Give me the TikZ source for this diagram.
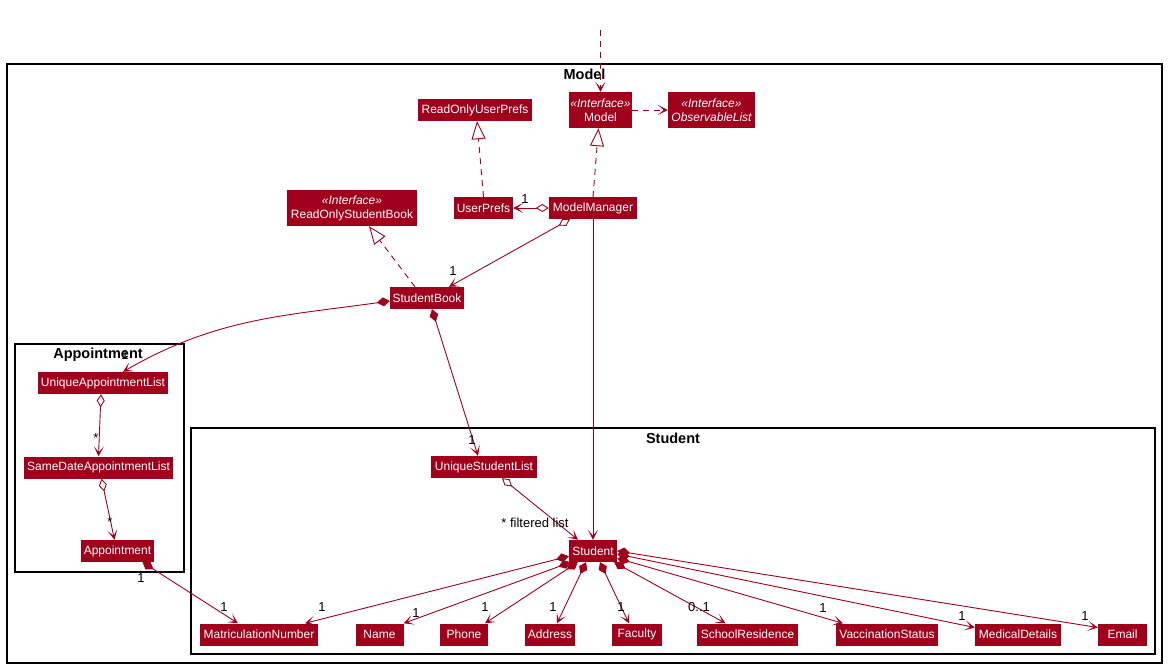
\documentclass[tikz,border=0pt]{standalone}
\usepackage{fontspec}
\setmainfont{Liberation Sans}
\usetikzlibrary{arrows.meta,calc}
\definecolor{umlred}{RGB}{160,0,28}
\tikzset{
  cls/.style={fill=umlred, text=white, inner sep=0pt, font=\fontsize{12}{14}\selectfont, align=center, minimum height=22pt},
  lbl/.style={text=black, inner sep=0pt, font=\fontsize{13}{15}\selectfont},
  pkgtitle/.style={font=\bfseries\fontsize{14.5}{16}\selectfont, inner sep=0pt},
  pkg/.style={draw=black, line width=1.2pt, inner sep=0pt},
  edge/.style={draw=umlred, line width=0.9pt},
  opentip/.style={-{Stealth[length=10pt,width=10pt,inset=6pt]}},
  dep/.style={edge, dash pattern=on 6pt off 5pt, opentip},
  real/.style={edge, dash pattern=on 6pt off 5pt, -{Triangle[open, length=18pt, width=14pt, fill=white]}},
  assoc/.style={edge, opentip},
  aggr/.style={edge, {Diamond[open, length=13pt, width=8pt, fill=white]}-{Stealth[length=10pt,width=10pt,inset=6pt]}},
  comp/.style={edge, {Diamond[length=13pt, width=9pt]}-{Stealth[length=10pt,width=10pt,inset=6pt]}}
}
\begin{document}
\begin{tikzpicture}[x=1pt,y=1pt]
\useasboundingbox[fill=white] (0,0) rectangle (1168,-668);

% packages
\node[pkg, minimum width=1155pt, minimum height=599pt] (pModel) at (584.5,-363.5) {};
\node[pkgtitle] (tModel) at (584.5,-74) {Model};
\node[pkg, minimum width=169pt, minimum height=228pt] (pAppt) at (99.5,-458) {};
\node[pkgtitle] (tAppt) at (98,-355) {Appointment};
\node[pkg, minimum width=964pt, minimum height=226pt] (pStudent) at (673,-541) {};
\node[pkgtitle] (tStudent) at (673,-438) {Student};

% classes
\node[cls, minimum width=114pt] (roup) at (475,-110) {ReadOnlyUserPrefs};
\node[cls, minimum width=63pt, minimum height=36pt] (model) at (600.5,-110) {{\itshape «Interface»}\\Model};
\node[cls, minimum width=87pt, minimum height=36pt] (obs) at (711.5,-110) {{\itshape «Interface»}\\{\itshape ObservableList}};
\node[cls, minimum width=59pt] (userprefs) at (483.5,-208) {UserPrefs};
\node[cls, minimum width=88pt] (mm) at (593,-208) {ModelManager};
\node[cls, minimum width=130pt, minimum height=36pt] (rosb) at (352,-208) {{\itshape «Interface»}\\ReadOnlyStudentBook};
\node[cls, minimum width=74pt] (sb) at (427,-298) {StudentBook};
\node[cls, minimum width=130pt] (ual) at (103,-383) {UniqueAppointmentList};
\node[cls, minimum width=149pt] (sdal) at (98.5,-467.5) {SameDateAppointmentList};
\node[cls, minimum width=73pt] (appt) at (117.5,-551) {Appointment};
\node[cls, minimum width=106pt] (usl) at (484,-467) {UniqueStudentList};
\node[cls, minimum width=48pt] (student) at (593,-551) {Student};
\node[cls, minimum width=118pt] (matr) at (259,-634.5) {MatriculationNumber};
\node[cls, minimum width=48pt] (name) at (379.5,-634.5) {Name};
\node[cls, minimum width=48pt] (phone) at (464,-634.5) {Phone};
\node[cls, minimum width=50pt] (address) at (550,-634.5) {Address};
\node[cls, minimum width=50pt] (faculty) at (637,-634.5) {Faculty};
\node[cls, minimum width=101pt] (schoolres) at (747.5,-634.5) {SchoolResidence};
\node[cls, minimum width=102pt] (vacc) at (887,-634.5) {VaccinationStatus};
\node[cls, minimum width=86pt] (medical) at (1018,-634.5) {MedicalDetails};
\node[cls, minimum width=49pt] (email) at (1122.5,-634.5) {Email};

% connectors
\coordinate (top) at (600.5,-30);
\draw[dep] (top) -- (model.north);
\draw[dep] (model.east) -- (obs.west);
\draw[real] (userprefs.north) -- ([xshift=2pt]roup.south);
\draw[real] (mm.north) -- ([xshift=-2pt]model.south);
\draw[aggr] (mm.west) -- (userprefs.east);
\draw[aggr] ([xshift=-23pt]mm.south) -- ([xshift=22pt]sb.north);
\draw[real] ([xshift=-12pt]sb.north) -- ([xshift=17pt]rosb.south);
\draw[comp] ([yshift=-3pt]sb.west) to[out=188, in=30] ([xshift=20pt]ual.north);
\draw[comp] ([xshift=5pt]sb.south) -- ([xshift=-6pt]usl.north);
\draw[assoc] (mm.south) -- (student.north);
\draw[aggr] ([xshift=-2pt]ual.south) -- (sdal.north);
\draw[aggr] ([xshift=3pt]sdal.south) -- ([xshift=-3pt]appt.north);
\draw[comp] ([xshift=25pt]appt.south) -- ([xshift=-21pt]matr.north);
\draw[aggr] ([xshift=18pt]usl.south) -- ([xshift=-15pt]student.north);
\draw[comp] ([yshift=6pt]student.south west) -- ([xshift=46pt]matr.north);
\draw[comp] ([xshift=2pt]student.south west) -- (name.north east);
\draw[comp] ([xshift=9pt]student.south west) -- ([xshift=21pt]phone.north);
\draw[comp] ([xshift=-7pt]student.south) -- ([xshift=7pt]address.north);
\draw[comp] ([xshift=7pt]student.south) -- ([xshift=-8pt]faculty.north);
\draw[comp] ([xshift=-3pt]student.south east) -- ([xshift=-22pt]schoolres.north);
\draw[comp] ([yshift=4pt]student.south east) -- ([xshift=-44pt]vacc.north);
\draw[comp] ([yshift=-3pt]student.east) -- ([yshift=7pt]medical.west);
\draw[comp] (student.east) -- ([yshift=7pt]email.west);

% multiplicity labels
\node[lbl] (l1) at (525,-199) {1};
\node[lbl] (l2) at (453,-271) {1};
\node[lbl] (l3) at (125,-355) {1};
\node[lbl] (l4) at (472,-440) {1};
\node[lbl] (l5) at (96,-438) {*};
\node[lbl] (l6) at (110,-522) {*};
\node[lbl] (l7) at (535,-523) {* filtered list};
\node[lbl] (l8) at (141,-578) {1};
\node[lbl] (l9) at (224,-607) {1};
\node[lbl] (l10) at (322,-607) {1};
\node[lbl] (l11) at (416,-613) {1};
\node[lbl] (l12) at (485,-607) {1};
\node[lbl] (l13) at (553,-607) {1};
\node[lbl] (l14) at (621,-607) {1};
\node[lbl] (l15) at (699,-607) {0..1};
\node[lbl] (l16) at (823,-608) {1};
\node[lbl] (l17) at (962,-616) {1};
\node[lbl] (l18) at (1085,-616) {1};
\end{tikzpicture}
\end{document}
